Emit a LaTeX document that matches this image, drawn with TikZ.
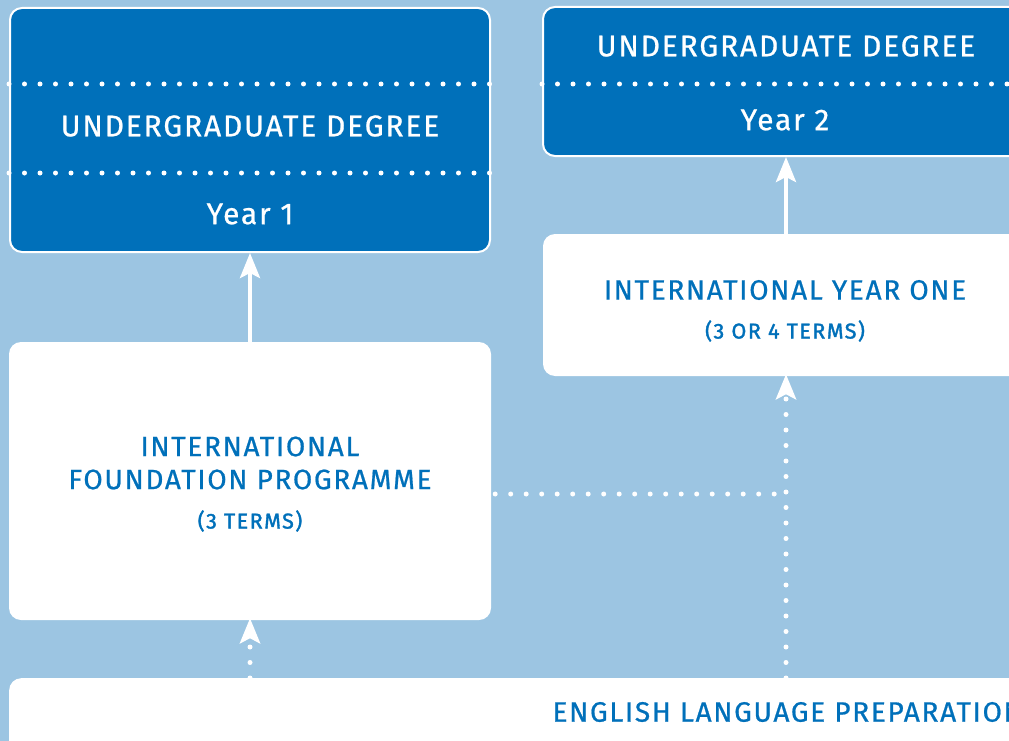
\documentclass[tikz,border=0pt]{standalone}
\usepackage{fontspec}
\setmainfont{Fira Sans}
\newfontfamily\labelfont{Fira Sans}[LetterSpace=6,FakeBold=0.7]
\newfontfamily\termfont{Fira Sans}[LetterSpace=7,FakeBold=1.6]
\usetikzlibrary{arrows.meta}
\definecolor{paleblue}{RGB}{156,197,226}
\definecolor{uniblue}{RGB}{0,112,186}
\tikzset{
    darkbox/.style={draw=white, line width=2pt, fill=uniblue, rounded corners=12pt, inner sep=0pt},
    lightbox/.style={fill=white, rounded corners=12pt, inner sep=0pt},
    whitetext/.style={font=\labelfont\fontsize{30}{33}\selectfont, text=white},
    bigtext/.style={font=\labelfont\fontsize{28}{33}\selectfont, align=center, text=uniblue},
    smalltext/.style={font=\termfont\fontsize{21.5}{24}\selectfont, text=uniblue},
    dotline/.style={white, line width=5pt, line cap=round, dash pattern=on 0pt off 15.5pt},
    solidarr/.style={white, line width=4pt, -{Stealth[length=25pt,width=20pt,inset=5pt]}},
    dotarr/.style={dotline, -{Stealth[length=25pt,width=20pt,inset=5pt]}}
}
\begin{document}
\begin{tikzpicture}[x=1pt, y=-1pt]
    \useasboundingbox (0,0) rectangle (1009,741);
    \clip (0,0) rectangle (1009,741);
    \fill[paleblue] (0,0) rectangle (1009,741);

    % degree boxes
    \node[darkbox, minimum width=480pt, minimum height=244pt] (ugA) at (250,130) {};
    \node[darkbox, minimum width=486pt, minimum height=149pt] (ugB) at (786,81.5) {};
    \draw[dotline] (ugA.west |- 0,84) -- (ugA.east |- 0,84);
    \draw[dotline] (ugA.west |- 0,173) -- (ugA.east |- 0,173);
    \draw[dotline] (ugB.west |- 0,84) -- (ugB.east |- 0,84);
    \node[whitetext] (ugAtitle) at (250,126) {UNDERGRADUATE DEGREE};
    \node[whitetext] (ugAyear) at (250,214) {Year 1};
    \node[whitetext] (ugBtitle) at (786,46) {UNDERGRADUATE DEGREE};
    \node[whitetext] (ugByear) at (785,120) {Year 2};

    % pathway boxes
    \node[lightbox, minimum width=486pt, minimum height=142pt] (iyo) at (786,305) {};
    \node[lightbox, minimum width=482pt, minimum height=278pt] (ifp) at (250,481) {};
    \node[lightbox, minimum width=1040pt, minimum height=90pt, anchor=north west] (elp) at (9,678) {};
    \node[bigtext] (iyotitle) at (785,290) {INTERNATIONAL YEAR ONE};
    \node[smalltext] (iyoterms) at (785,331) {(3 OR 4 TERMS)};
    \node[bigtext] (ifptitle) at (250,463) {INTERNATIONAL\\FOUNDATION PROGRAMME};
    \node[smalltext] (ifpterms) at (250,521) {(3 TERMS)};
    \node[bigtext, anchor=west] (elptitle) at (549,712) {ENGLISH LANGUAGE PREPARATION};

    % progression arrows
    \draw[solidarr] (ifp.north) -- (ugA.south);
    \draw[solidarr] (iyo.north) -- (ugB.south);
    \coordinate (join) at (786,494);
    \draw[dotline] ([xshift=4pt]ifp.east |- join) -- ([xshift=-10pt]join);
    \draw[dotarr] (elp.north -| iyo.south) -- ([yshift=2pt]iyo.south);
    \draw[dotarr] (elp.north -| ifp.south) -- ([yshift=2pt]ifp.south);
\end{tikzpicture}
\end{document}
